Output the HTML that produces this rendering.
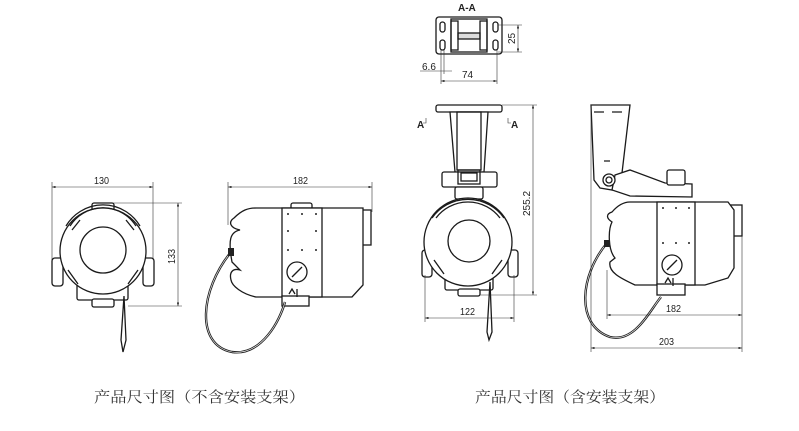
<!DOCTYPE html>
<html><head><meta charset="utf-8"><style>
html,body{margin:0;padding:0;background:#fff;width:799px;height:431px;overflow:hidden}
svg{display:block}
.l{fill:none;stroke:#1a1a1a;stroke-width:1.3}
.t{fill:none;stroke:#333;stroke-width:0.6}
.w{fill:#fff;stroke:#1a1a1a;stroke-width:1.3}
text{font-family:"Liberation Sans",sans-serif;font-size:10px;fill:#222}
.c{font-family:"Liberation Serif","Noto Serif CJK SC",serif;font-size:15px;fill:#333}
</style></head><body>
<svg width="799" height="431" viewBox="0 0 799 431">
<defs><marker id="a" markerWidth="6" markerHeight="4" refX="6" refY="2" orient="auto-start-reverse"><path d="M0,0L6,2L0,4z" fill="#222"/></marker></defs>

<!-- LEFT FRONT VIEW -->
<line class="t" x1="52" y1="187" x2="153" y2="187" marker-start="url(#a)" marker-end="url(#a)"/>
<line class="t" x1="52" y1="182" x2="52" y2="260"/><line class="t" x1="153" y1="182" x2="153" y2="260"/>
<text x="94" y="184" textLength="15" lengthAdjust="spacingAndGlyphs">130</text>
<line class="t" x1="178" y1="203" x2="178" y2="306" marker-start="url(#a)" marker-end="url(#a)"/>
<line class="t" x1="110" y1="203" x2="182" y2="203"/><line class="t" x1="128" y1="306" x2="182" y2="306"/>
<text transform="translate(175,264) rotate(-90)" textLength="15" lengthAdjust="spacingAndGlyphs">133</text>
<rect class="w" x="92" y="203" width="22" height="8" rx="2"/>
<rect class="w" x="52" y="258" width="11" height="28" rx="3"/>
<rect class="w" x="143" y="258" width="11" height="28" rx="3"/>
<rect class="w" x="77" y="283" width="51" height="17" rx="2"/>
<rect class="w" x="92" y="299" width="22" height="8" rx="2"/>
<circle class="w" cx="103" cy="251" r="43"/>
<path class="l" d="M66,226 A43,43 0 0 1 140,226 M70,226 A39,39 0 0 1 136,226"/>
<path class="l" d="M68,270 l10,14 M138,270 l-10,14 M72,230 l8,-10 M134,230 l-8,-10"/>
<circle class="w" cx="103" cy="250" r="23"/>
<path class="l" d="M124,296 L126,340 L123,352 L121,340 Z" stroke-width="1.4"/>

<!-- LEFT SIDE VIEW -->
<line class="t" x1="228" y1="187" x2="372" y2="187" marker-start="url(#a)" marker-end="url(#a)"/>
<line class="t" x1="228" y1="182" x2="228" y2="225"/><line class="t" x1="372" y1="182" x2="372" y2="212"/>
<text x="293" y="184" textLength="15" lengthAdjust="spacingAndGlyphs">182</text>
<rect class="w" x="291" y="203" width="21" height="7" rx="2"/>
<rect class="w" x="351" y="210" width="20" height="35"/>
<path class="w" d="M256,208 L363,208 L363,285 L352,297 L256,297 C242,294 232,286 231,280 C229,272 233,268 240,270 L232,262 C228,240 230,232 240,230 C230,228 228,222 234,218 C242,210 248,208 256,208 Z"/>
<rect class="w" x="282" y="208" width="40" height="89"/>
<rect class="w" x="282" y="296" width="27" height="10"/>
<circle class="w" cx="297" cy="272" r="10"/>
<line class="l" x1="292" y1="277" x2="302" y2="267" stroke-width="2.5"/>
<circle cx="288" cy="214" r="1" fill="#222"/><circle cx="302" cy="214" r="1" fill="#222"/><circle cx="316" cy="214" r="1" fill="#222"/>
<circle cx="288" cy="231" r="1" fill="#222"/><circle cx="316" cy="231" r="1" fill="#222"/>
<circle cx="288" cy="250" r="1" fill="#222"/><circle cx="302" cy="250" r="1" fill="#222"/><circle cx="316" cy="250" r="1" fill="#222"/>
<path d="M231,252 C200,290 195,345 232,352 C262,356 280,320 285,302" fill="none" stroke="#222" stroke-width="2.4"/>
<path d="M231,252 C200,290 195,345 232,352 C262,356 280,320 285,302" fill="none" stroke="#fff" stroke-width="0.6"/>
<rect x="228" y="248" width="6" height="8" fill="#222"/>
<path class="l" d="M289,294 l3,-5 l3,5 M297,289 v8"/>

<!-- A-A SECTION -->
<text x="458" y="11" style="font-weight:bold">A-A</text>
<rect class="w" x="436" y="17" width="66" height="37" rx="3"/>
<rect class="l" x="451" y="19" width="36" height="33"/>
<rect class="l" x="458" y="33" width="22" height="6" style="fill:#ddd"/>
<rect class="l" x="451" y="21" width="7" height="29"/><rect class="l" x="480" y="21" width="7" height="29"/>
<rect class="l" x="440" y="22" width="5" height="10" rx="2.5"/><rect class="l" x="440" y="40" width="5" height="10" rx="2.5"/>
<rect class="l" x="493" y="22" width="5" height="10" rx="2.5"/><rect class="l" x="493" y="40" width="5" height="10" rx="2.5"/>
<line class="t" x1="518" y1="25" x2="518" y2="52" marker-start="url(#a)" marker-end="url(#a)"/>
<line class="t" x1="498" y1="25" x2="522" y2="25"/><line class="t" x1="498" y1="52" x2="522" y2="52"/>
<text transform="translate(515,44) rotate(-90)">25</text>
<text x="422" y="70">6.6</text>
<line class="t" x1="420" y1="71" x2="452" y2="71"/>
<line class="t" x1="441" y1="50" x2="441" y2="84"/><line class="t" x1="444" y1="50" x2="444" y2="74"/><line class="t" x1="497" y1="50" x2="497" y2="84"/>
<line class="t" x1="441" y1="81" x2="497" y2="81" marker-start="url(#a)" marker-end="url(#a)"/>
<text x="462" y="78">74</text>

<!-- FRONT WITH BRACKET -->
<text x="417" y="128" style="font-weight:bold">A</text><path class="t" d="M426,118 v5 h-3"/>
<text x="511" y="128" style="font-weight:bold">A</text><path class="t" d="M508,118 v5 h3"/>
<rect class="w" x="436" y="105" width="66" height="7" rx="2"/>
<path class="w" d="M450,112 L488,112 L484,172 L455,172 Z"/>
<rect class="l" x="457" y="112" width="24" height="58"/>
<rect class="w" x="442" y="172" width="55" height="15" rx="2"/>
<rect class="l" x="458" y="170" width="22" height="14"/><rect class="l" x="461" y="173" width="16" height="8"/>
<rect class="w" x="455" y="187" width="28" height="12" rx="2"/>
<rect class="w" x="422" y="250" width="10" height="27" rx="3"/>
<rect class="w" x="508" y="250" width="10" height="27" rx="3"/>
<rect class="w" x="445" y="275" width="48" height="15" rx="2"/>
<rect class="w" x="458" y="289" width="22" height="7" rx="2"/>
<circle class="w" cx="468" cy="242" r="44"/>
<path class="l" d="M432,218 A44,44 0 0 1 504,218 M436,218 A40,40 0 0 1 500,218"/>
<path class="l" d="M434,260 l10,14 M502,260 l-10,14"/>
<circle class="w" cx="469" cy="241" r="21"/>
<path class="l" d="M490,282 L492,332 L489,340 L487,332 Z" stroke-width="1.4"/>
<line class="t" x1="533" y1="105" x2="533" y2="295" marker-start="url(#a)" marker-end="url(#a)"/>
<line class="t" x1="502" y1="105" x2="537" y2="105"/><line class="t" x1="480" y1="295" x2="537" y2="295"/>
<text transform="translate(530,216) rotate(-90)">255.2</text>
<line class="t" x1="425" y1="318" x2="514" y2="318" marker-start="url(#a)" marker-end="url(#a)"/>
<line class="t" x1="425" y1="275" x2="425" y2="322"/><line class="t" x1="514" y1="275" x2="514" y2="322"/>
<text x="460" y="315" textLength="15" lengthAdjust="spacingAndGlyphs">122</text>

<!-- SIDE WITH BRACKET -->
<path class="w" d="M591,105 L630,105 L622,173 L612,190 L600,188 L594,180 Z"/>
<path class="l" d="M594,112 h10 M612,112 h10 M604,161 h6"/>
<path class="w" d="M615,175 L630,170 L665,183 L692,184 L692,197 L630,196 L612,190 Z"/>
<circle class="w" cx="609" cy="180" r="6"/><circle class="l" cx="609" cy="180" r="3"/>
<rect class="w" x="667" y="170" width="18" height="15" rx="2"/>
<rect class="w" x="724" y="205" width="18" height="31"/>
<path class="w" d="M630,202 L728,202 L734,210 L734,268 L728,278 L705,285 L635,285 C620,278 608,272 610,262 L615,258 C608,250 608,230 612,222 C606,218 606,214 612,212 C618,205 624,202 630,202 Z"/>
<rect class="w" x="657" y="202" width="38" height="83"/>
<rect class="w" x="657" y="284" width="28" height="11"/>
<circle class="w" cx="672" cy="265" r="10"/>
<line class="l" x1="667" y1="270" x2="677" y2="260" stroke-width="2.5"/>
<circle cx="663" cy="208" r="1" fill="#222"/><circle cx="676" cy="208" r="1" fill="#222"/><circle cx="689" cy="208" r="1" fill="#222"/>
<circle cx="663" cy="243" r="1" fill="#222"/><circle cx="676" cy="243" r="1" fill="#222"/><circle cx="689" cy="243" r="1" fill="#222"/>
<path d="M607,243 C580,275 575,325 610,337 C635,343 650,310 661,297" fill="none" stroke="#222" stroke-width="2.4"/>
<path d="M607,243 C580,275 575,325 610,337 C635,343 650,310 661,297" fill="none" stroke="#fff" stroke-width="0.6"/>
<rect x="604" y="240" width="6" height="7" fill="#222"/>
<path class="l" d="M665,283 l3,-5 l3,5 M673,278 v8"/>
<line class="t" x1="607" y1="315" x2="742" y2="315" marker-start="url(#a)" marker-end="url(#a)"/>
<line class="t" x1="607" y1="270" x2="607" y2="319"/><line class="t" x1="742" y1="236" x2="742" y2="352"/>
<text x="666" y="312" textLength="15" lengthAdjust="spacingAndGlyphs">182</text>
<line class="t" x1="591" y1="348" x2="742" y2="348" marker-start="url(#a)" marker-end="url(#a)"/>
<line class="t" x1="591" y1="105" x2="591" y2="352"/>
<text x="659" y="345" textLength="15" lengthAdjust="spacingAndGlyphs">203</text>

<text class="c" x="94" y="402" textLength="211" lengthAdjust="spacingAndGlyphs">产品尺寸图（不含安装支架）</text>
<text class="c" x="475" y="402" textLength="190" lengthAdjust="spacingAndGlyphs">产品尺寸图（含安装支架）</text>
</svg>
</body></html>
